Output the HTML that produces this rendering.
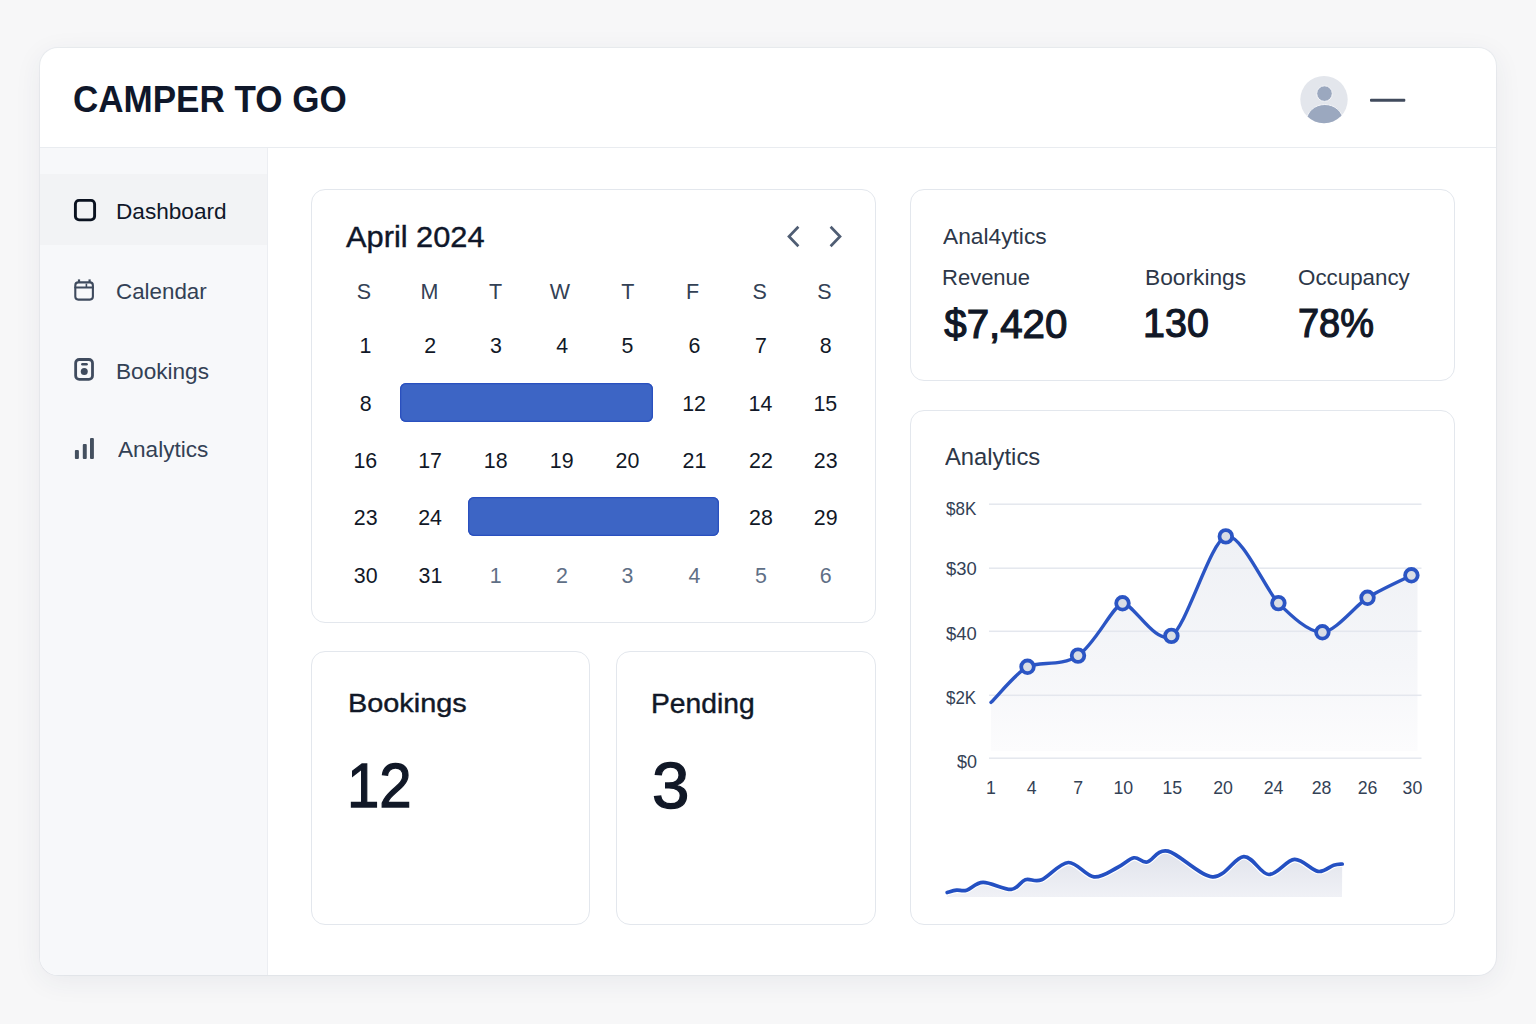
<!DOCTYPE html>
<html><head><meta charset="utf-8"><style>
html,body{margin:0;padding:0;}
body{width:1536px;height:1024px;overflow:hidden;position:relative;background:#f7f7f8;font-family:"Liberation Sans",sans-serif;}
.t{position:absolute;line-height:1;white-space:nowrap;}
.card{position:absolute;background:#fff;border:1.5px solid #e3e7ed;border-radius:14px;box-sizing:border-box;}
</style></head><body>
<div style="position:absolute;left:40px;top:48px;width:1456px;height:927px;border-radius:18px;background:#fff;box-shadow:0 6px 28px rgba(40,50,80,0.07),0 0 0 1px rgba(215,220,230,0.35);overflow:hidden">
  <div style="position:absolute;left:0;top:99px;width:1456px;height:1px;background:#e9ecf0"></div>
  <div style="position:absolute;left:0;top:100px;width:228px;height:827px;background:#f7f8fa;border-right:1px solid #eceef2;box-sizing:border-box"></div>
  <div style="position:absolute;left:0;top:126px;width:227px;height:71px;background:#f2f3f5"></div>
</div>
<div class="card" style="left:311px;top:189px;width:565px;height:434px"></div>
<div class="card" style="left:311px;top:651px;width:279px;height:274px"></div>
<div class="card" style="left:616px;top:651px;width:260px;height:274px"></div>
<div class="card" style="left:910px;top:189px;width:545px;height:192px"></div>
<div class="card" style="left:910px;top:410px;width:545px;height:515px"></div>
<div class="t" style="left:72.56px;top:81px;font-size:37.06px;font-weight:700;color:#0f172a;transform:scaleX(0.9451);transform-origin:0 0;">CAMPER TO GO</div><svg style="position:absolute;left:0;top:0" width="1536" height="1024">
<defs><clipPath id="av"><circle cx="1324" cy="99.6" r="23.7"/></clipPath></defs>
<circle cx="1324" cy="99.6" r="23.7" fill="#e3e6ec"/>
<g clip-path="url(#av)"><ellipse cx="1324.8" cy="121" rx="18.3" ry="16.5" fill="#9ba8bf" stroke="#f4f5f8" stroke-width="1"/><circle cx="1324.5" cy="93.6" r="7.8" fill="#9ba8bf" stroke="#f4f5f8" stroke-width="1"/></g>
<rect x="1370" y="98.8" width="35.3" height="3" rx="1" fill="#414b5d"/>
</svg><div class="t" style="left:116.15px;top:200px;font-size:22.97px;font-weight:400;color:#0f172a;transform:scaleX(0.9846);transform-origin:0 0;">Dashboard</div><div class="t" style="left:116.26px;top:280px;font-size:22.67px;font-weight:400;color:#334155;transform:scaleX(0.9869);transform-origin:0 0;">Calendar</div><div class="t" style="left:115.55px;top:361px;font-size:22.38px;font-weight:400;color:#334155;transform:scaleX(1.0097);transform-origin:0 0;">Bookings</div><div class="t" style="left:118.16px;top:439px;font-size:22.09px;font-weight:400;color:#334155;transform:scaleX(1.0221);transform-origin:0 0;">Analytics</div><svg style="position:absolute;left:0;top:0" width="1536" height="1024" fill="none" stroke-linecap="round" stroke-linejoin="round">
<rect x="75.4" y="200.4" width="19.2" height="19.5" rx="3.6" stroke="#0b1220" stroke-width="2.9"/>
<rect x="75.3" y="282.4" width="17.6" height="17.2" rx="3" stroke="#3f4b5e" stroke-width="2.1"/>
<line x1="75.3" y1="287.4" x2="92.9" y2="287.4" stroke="#3f4b5e" stroke-width="2"/>
<line x1="79" y1="279.4" x2="79" y2="282" stroke="#3f4b5e" stroke-width="2.2" stroke-linecap="butt"/>
<line x1="89.6" y1="279.4" x2="89.6" y2="282" stroke="#3f4b5e" stroke-width="2.2" stroke-linecap="butt"/>
<line x1="86.4" y1="283.6" x2="86.4" y2="287" stroke="#3f4b5e" stroke-width="1.6" stroke-linecap="butt"/>
<rect x="75.65" y="359.5" width="16.85" height="19.85" rx="3.6" stroke="#3f4b5e" stroke-width="2.8"/>
<line x1="82.35" y1="364.35" x2="86.55" y2="364.35" stroke="#3f4b5e" stroke-width="2.5"/>
<circle cx="84.25" cy="371.4" r="3.5" fill="#3f4b5e"/>
<rect x="74.9" y="450.1" width="4" height="8.8" rx="1" fill="#44505f"/>
<rect x="82.8" y="444" width="3.95" height="14.9" rx="1" fill="#44505f"/>
<rect x="90" y="437.9" width="3.9" height="21" rx="1" fill="#44505f"/>
</svg><div class="t" style="left:346.14px;top:222px;font-size:29.51px;font-weight:400;color:#0f172a;transform:scaleX(1.0429);transform-origin:0 0;-webkit-text-stroke:0.4px #0f172a;">April 2024</div><svg style="position:absolute;left:0;top:0" width="1536" height="1024" fill="none" stroke="#4f5d73" stroke-width="2.7" stroke-linecap="butt" stroke-linejoin="miter">
<polyline points="798.4,226.8 789,236.5 798.4,246.2"/>
<polyline points="830.6,226.8 840,236.5 830.6,246.2"/>
</svg><div class="t" style="left:356.83px;top:282px;font-size:21.51px;font-weight:400;color:#334155;">S</div><div class="t" style="left:420.54px;top:282px;font-size:21.51px;font-weight:400;color:#334155;">M</div><div class="t" style="left:488.94px;top:282px;font-size:21.51px;font-weight:400;color:#334155;">T</div><div class="t" style="left:549.84px;top:282px;font-size:21.51px;font-weight:400;color:#334155;">W</div><div class="t" style="left:621.24px;top:282px;font-size:21.51px;font-weight:400;color:#334155;">T</div><div class="t" style="left:685.98px;top:282px;font-size:21.51px;font-weight:400;color:#334155;">F</div><div class="t" style="left:752.53px;top:282px;font-size:21.51px;font-weight:400;color:#334155;">S</div><div class="t" style="left:817.33px;top:282px;font-size:21.51px;font-weight:400;color:#334155;">S</div><div class="t" style="left:359.47px;top:336px;font-size:21.37px;font-weight:400;color:#111827;">1</div><div class="t" style="left:424.36px;top:336px;font-size:21.37px;font-weight:400;color:#111827;">2</div><div class="t" style="left:490.12px;top:336px;font-size:21.37px;font-weight:400;color:#111827;">3</div><div class="t" style="left:556.13px;top:336px;font-size:21.37px;font-weight:400;color:#111827;">4</div><div class="t" style="left:621.58px;top:336px;font-size:21.37px;font-weight:400;color:#111827;">5</div><div class="t" style="left:688.39px;top:336px;font-size:21.37px;font-weight:400;color:#111827;">6</div><div class="t" style="left:755.05px;top:336px;font-size:21.37px;font-weight:400;color:#111827;">7</div><div class="t" style="left:819.76px;top:336px;font-size:21.37px;font-weight:400;color:#111827;">8</div><div class="t" style="left:359.76px;top:394px;font-size:21.37px;font-weight:400;color:#111827;">8</div><div class="t" style="left:682.24px;top:394px;font-size:21.37px;font-weight:400;color:#111827;">12</div><div class="t" style="left:748.62px;top:394px;font-size:21.37px;font-weight:400;color:#111827;">14</div><div class="t" style="left:813.45px;top:394px;font-size:21.37px;font-weight:400;color:#111827;">15</div><div class="t" style="left:353.47px;top:451px;font-size:21.37px;font-weight:400;color:#111827;">16</div><div class="t" style="left:418.14px;top:451px;font-size:21.37px;font-weight:400;color:#111827;">17</div><div class="t" style="left:483.77px;top:451px;font-size:21.37px;font-weight:400;color:#111827;">18</div><div class="t" style="left:549.81px;top:451px;font-size:21.37px;font-weight:400;color:#111827;">19</div><div class="t" style="left:615.50px;top:451px;font-size:21.37px;font-weight:400;color:#111827;">20</div><div class="t" style="left:682.50px;top:451px;font-size:21.37px;font-weight:400;color:#111827;">21</div><div class="t" style="left:749.12px;top:451px;font-size:21.37px;font-weight:400;color:#111827;">22</div><div class="t" style="left:813.75px;top:451px;font-size:21.37px;font-weight:400;color:#111827;">23</div><div class="t" style="left:353.75px;top:508px;font-size:21.37px;font-weight:400;color:#111827;">23</div><div class="t" style="left:418.19px;top:508px;font-size:21.37px;font-weight:400;color:#111827;">24</div><div class="t" style="left:749.04px;top:508px;font-size:21.37px;font-weight:400;color:#111827;">28</div><div class="t" style="left:813.79px;top:508px;font-size:21.37px;font-weight:400;color:#111827;">29</div><div class="t" style="left:353.83px;top:566px;font-size:21.37px;font-weight:400;color:#111827;">30</div><div class="t" style="left:418.53px;top:566px;font-size:21.37px;font-weight:400;color:#111827;">31</div><div class="t" style="left:489.77px;top:566px;font-size:21.37px;font-weight:400;color:#5f6f86;">1</div><div class="t" style="left:556.06px;top:566px;font-size:21.37px;font-weight:400;color:#5f6f86;">2</div><div class="t" style="left:621.62px;top:566px;font-size:21.37px;font-weight:400;color:#5f6f86;">3</div><div class="t" style="left:688.53px;top:566px;font-size:21.37px;font-weight:400;color:#5f6f86;">4</div><div class="t" style="left:755.08px;top:566px;font-size:21.37px;font-weight:400;color:#5f6f86;">5</div><div class="t" style="left:819.69px;top:566px;font-size:21.37px;font-weight:400;color:#5f6f86;">6</div><div style="position:absolute;left:400px;top:382.7px;width:253px;height:39.5px;border-radius:6px;background:#3d65c5;box-shadow:inset 0 0 0 1.3px #2a50bf"></div><div style="position:absolute;left:468px;top:497px;width:251px;height:39.3px;border-radius:6px;background:#3d65c5;box-shadow:inset 0 0 0 1.3px #2a50bf"></div><div class="t" style="left:347.63px;top:690px;font-size:26.02px;font-weight:400;color:#111827;transform:scaleX(1.1091);transform-origin:0 0;-webkit-text-stroke:0.4px #111827;">Bookings</div><div class="t" style="left:346.72px;top:753px;font-size:63.66px;font-weight:400;color:#111827;transform:scaleX(0.9130);transform-origin:0 0;-webkit-text-stroke:1.3px #111827;">12</div><div class="t" style="left:651.38px;top:691px;font-size:26.74px;font-weight:400;color:#111827;transform:scaleX(1.0570);transform-origin:0 0;-webkit-text-stroke:0.4px #111827;">Pending</div><div class="t" style="left:652.49px;top:754px;font-size:64.10px;font-weight:400;color:#111827;transform:scaleX(1.0497);transform-origin:0 0;-webkit-text-stroke:1.3px #111827;">3</div><div class="t" style="left:943.21px;top:226px;font-size:22.24px;font-weight:400;color:#2d3748;transform:scaleX(1.0228);transform-origin:0 0;">Anal4ytics</div><div class="t" style="left:941.79px;top:267px;font-size:21.22px;font-weight:400;color:#2d3748;transform:scaleX(1.0369);transform-origin:0 0;">Revenue</div><div class="t" style="left:1144.54px;top:267px;font-size:21.22px;font-weight:400;color:#2d3748;transform:scaleX(1.0712);transform-origin:0 0;">Boorkings</div><div class="t" style="left:1298.04px;top:267px;font-size:21.22px;font-weight:400;color:#2d3748;transform:scaleX(1.0532);transform-origin:0 0;">Occupancy</div><div class="t" style="left:944.27px;top:305px;font-size:40.26px;font-weight:400;color:#111827;-webkit-text-stroke:1.2px #111827;">$7,420</div><div class="t" style="left:1143.29px;top:304px;font-size:40.12px;font-weight:400;color:#111827;transform:scaleX(0.9838);transform-origin:0 0;-webkit-text-stroke:1.2px #111827;">130</div><div class="t" style="left:1297.75px;top:304px;font-size:40.12px;font-weight:400;color:#111827;transform:scaleX(0.9466);transform-origin:0 0;-webkit-text-stroke:1.2px #111827;">78%</div><div class="t" style="left:945.45px;top:445px;font-size:24.13px;font-weight:400;color:#2d3748;transform:scaleX(0.9861);transform-origin:0 0;">Analytics</div><div class="t" style="left:946.32px;top:500px;font-size:18.02px;font-weight:400;color:#334155;transform:scaleX(0.9440);transform-origin:0 0;">$8K</div><div class="t" style="left:946.40px;top:560px;font-size:18.02px;font-weight:400;color:#334155;transform:scaleX(1.0215);transform-origin:0 0;">$30</div><div class="t" style="left:946.40px;top:625px;font-size:18.02px;font-weight:400;color:#334155;transform:scaleX(1.0215);transform-origin:0 0;">$40</div><div class="t" style="left:946.42px;top:689px;font-size:18.02px;font-weight:400;color:#334155;transform:scaleX(0.9409);transform-origin:0 0;">$2K</div><div class="t" style="left:957.11px;top:753px;font-size:18.02px;font-weight:400;color:#334155;transform:scaleX(0.9974);transform-origin:0 0;">$0</div><div class="t" style="left:985.93px;top:780px;font-size:17.73px;font-weight:400;color:#334155;">1</div><div class="t" style="left:1026.73px;top:780px;font-size:17.73px;font-weight:400;color:#334155;">4</div><div class="t" style="left:1073.16px;top:780px;font-size:17.73px;font-weight:400;color:#334155;">7</div><div class="t" style="left:1113.41px;top:780px;font-size:17.73px;font-weight:400;color:#334155;">10</div><div class="t" style="left:1162.53px;top:780px;font-size:17.73px;font-weight:400;color:#334155;">15</div><div class="t" style="left:1213.24px;top:780px;font-size:17.73px;font-weight:400;color:#334155;">20</div><div class="t" style="left:1263.65px;top:780px;font-size:17.73px;font-weight:400;color:#334155;">24</div><div class="t" style="left:1311.78px;top:780px;font-size:17.73px;font-weight:400;color:#334155;">28</div><div class="t" style="left:1357.78px;top:780px;font-size:17.73px;font-weight:400;color:#334155;">26</div><div class="t" style="left:1402.55px;top:780px;font-size:17.73px;font-weight:400;color:#334155;">30</div><svg style="position:absolute;left:0;top:0" width="1536" height="1024">
<defs>
<linearGradient id="ga" x1="0" y1="0" x2="0" y2="1"><stop offset="0" stop-color="#eff1f5"/><stop offset="0.6" stop-color="#f5f6f9"/><stop offset="1" stop-color="#fcfcfd"/></linearGradient>
<linearGradient id="gs" x1="0" y1="0" x2="0" y2="1"><stop offset="0" stop-color="#e0e3eb"/><stop offset="1" stop-color="#f0f1f6"/></linearGradient>
</defs>
<path d="M991,702.4 C998.30,695.28 1015.90,673.04 1027.5,666.8 C1039.10,660.56 1060.58,667.24 1078,655.6 C1095.42,643.96 1113.16,605.27 1122.5,603.3 C1131.84,601.33 1155.91,645.93 1171.4,635.9 C1186.89,625.87 1210.64,541.05 1225.8,536.4 C1240.96,531.75 1266.33,591.11 1278.4,603.1 C1290.48,615.09 1309.04,633.09 1322.4,632.3 C1335.77,631.50 1355.63,605.40 1367.5,597.8 C1379.37,590.20 1399.69,581.30 1411.4,575.3 L1417.5,573 L1417.5,751 L991,751 Z" fill="url(#ga)"/>
<rect x="989" y="503.45" width="432.5" height="1.5" fill="#e4e7ee"/><rect x="989" y="567.45" width="432.5" height="1.5" fill="#e4e7ee"/><rect x="989" y="630.55" width="432.5" height="1.5" fill="#e4e7ee"/><rect x="989" y="694.55" width="432.5" height="1.5" fill="#e4e7ee"/><rect x="989" y="757.45" width="432.5" height="1.5" fill="#e4e7ee"/>
<path d="M991,702.4 C998.30,695.28 1015.90,673.04 1027.5,666.8 C1039.10,660.56 1060.58,667.24 1078,655.6 C1095.42,643.96 1113.16,605.27 1122.5,603.3 C1131.84,601.33 1155.91,645.93 1171.4,635.9 C1186.89,625.87 1210.64,541.05 1225.8,536.4 C1240.96,531.75 1266.33,591.11 1278.4,603.1 C1290.48,615.09 1309.04,633.09 1322.4,632.3 C1335.77,631.50 1355.63,605.40 1367.5,597.8 C1379.37,590.20 1399.69,581.30 1411.4,575.3" fill="none" stroke="#2b55c4" stroke-width="3.4" stroke-linecap="round"/>
<circle cx="1027.5" cy="666.8" r="6.3" fill="#d9dde5" stroke="#2b55c4" stroke-width="3.8"/><circle cx="1078" cy="655.6" r="6.3" fill="#d9dde5" stroke="#2b55c4" stroke-width="3.8"/><circle cx="1122.5" cy="603.3" r="6.3" fill="#d9dde5" stroke="#2b55c4" stroke-width="3.8"/><circle cx="1171.4" cy="635.9" r="6.3" fill="#d9dde5" stroke="#2b55c4" stroke-width="3.8"/><circle cx="1225.8" cy="536.4" r="6.3" fill="#d9dde5" stroke="#2b55c4" stroke-width="3.8"/><circle cx="1278.4" cy="603.1" r="6.3" fill="#d9dde5" stroke="#2b55c4" stroke-width="3.8"/><circle cx="1322.4" cy="632.3" r="6.3" fill="#d9dde5" stroke="#2b55c4" stroke-width="3.8"/><circle cx="1367.5" cy="597.8" r="6.3" fill="#d9dde5" stroke="#2b55c4" stroke-width="3.8"/><circle cx="1411.4" cy="575.3" r="6.3" fill="#d9dde5" stroke="#2b55c4" stroke-width="3.8"/>
<path d="M947.2,892.5 C948.77,892.12 953.35,890.58 956.6,890.2 C959.85,889.82 962.28,891.52 966.7,890.2 C971.12,888.88 975.68,882.43 983.1,882.3 C990.52,882.17 1004.22,889.83 1011.25,889.4 C1018.28,888.97 1020.22,881.32 1025.3,879.7 C1030.38,878.08 1034.53,882.57 1041.7,879.7 C1048.87,876.83 1059.58,862.97 1068.3,862.5 C1077.02,862.03 1085.80,876.07 1094,876.9 C1102.20,877.73 1110.85,870.68 1117.5,867.5 C1124.15,864.32 1128.95,858.72 1133.9,857.8 C1138.85,856.88 1141.52,863.12 1147.2,862 C1152.88,860.88 1157.12,848.62 1168,851.1 C1178.88,853.58 1199.88,875.98 1212.5,876.9 C1225.12,877.82 1234.38,857.00 1243.75,856.6 C1253.12,856.20 1260.29,874.03 1268.75,874.5 C1277.21,874.97 1286.29,859.92 1294.5,859.4 C1302.71,858.88 1311.48,870.43 1318,871.4 C1324.52,872.37 1329.57,866.43 1333.6,865.2 C1337.63,863.97 1340.77,864.20 1342.2,864 L1342,897 L947,897 Z" fill="url(#gs)"/>
<path d="M947.2,892.5 C948.77,892.12 953.35,890.58 956.6,890.2 C959.85,889.82 962.28,891.52 966.7,890.2 C971.12,888.88 975.68,882.43 983.1,882.3 C990.52,882.17 1004.22,889.83 1011.25,889.4 C1018.28,888.97 1020.22,881.32 1025.3,879.7 C1030.38,878.08 1034.53,882.57 1041.7,879.7 C1048.87,876.83 1059.58,862.97 1068.3,862.5 C1077.02,862.03 1085.80,876.07 1094,876.9 C1102.20,877.73 1110.85,870.68 1117.5,867.5 C1124.15,864.32 1128.95,858.72 1133.9,857.8 C1138.85,856.88 1141.52,863.12 1147.2,862 C1152.88,860.88 1157.12,848.62 1168,851.1 C1178.88,853.58 1199.88,875.98 1212.5,876.9 C1225.12,877.82 1234.38,857.00 1243.75,856.6 C1253.12,856.20 1260.29,874.03 1268.75,874.5 C1277.21,874.97 1286.29,859.92 1294.5,859.4 C1302.71,858.88 1311.48,870.43 1318,871.4 C1324.52,872.37 1329.57,866.43 1333.6,865.2 C1337.63,863.97 1340.77,864.20 1342.2,864" fill="none" stroke="#fff" stroke-width="6" stroke-linecap="round"/>
<path d="M947.2,892.5 C948.77,892.12 953.35,890.58 956.6,890.2 C959.85,889.82 962.28,891.52 966.7,890.2 C971.12,888.88 975.68,882.43 983.1,882.3 C990.52,882.17 1004.22,889.83 1011.25,889.4 C1018.28,888.97 1020.22,881.32 1025.3,879.7 C1030.38,878.08 1034.53,882.57 1041.7,879.7 C1048.87,876.83 1059.58,862.97 1068.3,862.5 C1077.02,862.03 1085.80,876.07 1094,876.9 C1102.20,877.73 1110.85,870.68 1117.5,867.5 C1124.15,864.32 1128.95,858.72 1133.9,857.8 C1138.85,856.88 1141.52,863.12 1147.2,862 C1152.88,860.88 1157.12,848.62 1168,851.1 C1178.88,853.58 1199.88,875.98 1212.5,876.9 C1225.12,877.82 1234.38,857.00 1243.75,856.6 C1253.12,856.20 1260.29,874.03 1268.75,874.5 C1277.21,874.97 1286.29,859.92 1294.5,859.4 C1302.71,858.88 1311.48,870.43 1318,871.4 C1324.52,872.37 1329.57,866.43 1333.6,865.2 C1337.63,863.97 1340.77,864.20 1342.2,864" fill="none" stroke="#2450c2" stroke-width="3.7" stroke-linecap="round"/>
</svg>
</body></html>
